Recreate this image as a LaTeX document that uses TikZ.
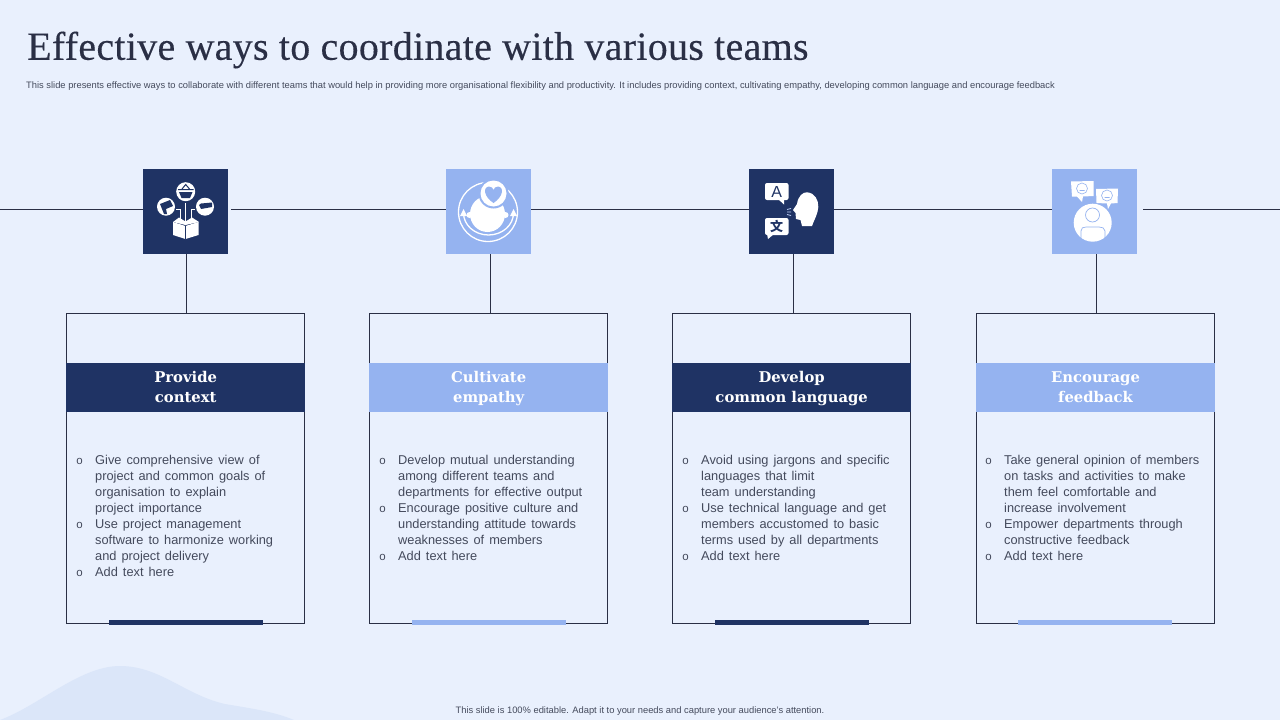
\documentclass[tikz,border=0pt]{standalone}
\usepackage{fontspec}
\setmainfont{Liberation Sans}
\newfontfamily\titlefont[LetterSpace=0.7,FakeBold=0.25]{Liberation Serif}
\newfontfamily\headfont{DejaVu Serif}
\newfontfamily\cjkfont{Noto Sans CJK SC}
\usepackage{xcolor}
\usepackage{tikz}
\usetikzlibrary{positioning}

\definecolor{pagebg}{HTML}{E9F0FD}
\definecolor{blobbg}{HTML}{DBE6F9}
\definecolor{navy}{HTML}{1F3364}
\definecolor{skyblue}{HTML}{95B3F0}
\definecolor{inkdark}{HTML}{2A2F45}
\definecolor{inkbody}{HTML}{444A5C}

\newcommand{\bulletmark}{\llap{\fontsize{11.5}{11.5}\selectfont o\hspace{12.5pt}}}
\newcommand{\headlines}[2]{\rule{0pt}{14pt}#1\\#2\rule[-4pt]{0pt}{4pt}}
\newcommand{\bodyfont}{\fontsize{12.8}{16}\selectfont\spaceskip 5pt\relax}

\tikzset{
  iconbox/.style={rectangle, minimum width=85pt, minimum height=85pt, inner sep=0pt},
  cardbox/.style={rectangle, draw=inkdark, line width=0.8pt, minimum width=238pt, minimum height=310pt, inner sep=0pt},
  headband/.style={rectangle, minimum width=238.5pt, minimum height=49pt, inner sep=0pt, text=white, align=center, font=\headfont\bfseries\fontsize{14.8}{20}\selectfont},
  footbar/.style={rectangle, minimum width=154pt, minimum height=5pt, inner sep=0pt},
  bodytext/.style={anchor=north west, inner sep=0pt, align=left, text=inkbody, font=\bodyfont},
  smalltext/.style={inner sep=0pt, text=inkbody, font=\fontsize{9.35}{10}\selectfont},
  wire/.style={draw=inkdark, line width=0.8pt}
}

\begin{document}
\begin{tikzpicture}[x=1pt, y=-1pt]
\useasboundingbox[fill=pagebg] (0,0) rectangle (1280,720);

% background blob
\fill[blobbg] (0,720) .. controls (40,705) and (80,666) .. (120,666)
  .. controls (160,666) and (185,695) .. (225,704) .. controls (255,709) and (275,712) .. (294,720) -- cycle;

% title lines
\node[anchor=west, inner sep=0pt, text=inkdark, font=\titlefont\fontsize{40}{42}\selectfont] (title) at (27,50) {Effective ways to coordinate with various teams};
\node[smalltext, anchor=west] (subtitle) at (26,85.7) {This slide presents effective ways to collaborate with different teams that would help in providing more organisational flexibility and productivity. It includes providing context, cultivating empathy, developing common language and encourage feedback};
\node[smalltext] (footer) at (640,711) {This slide is 100\% editable. Adapt it to your needs and capture your audience's attention.};

% icon squares
\node[iconbox, fill=navy] (iconone) at (185.5,211.5) {};
\node[iconbox, fill=skyblue] (icontwo) at (488.5,211.5) {};
\node[iconbox, fill=navy] (iconthree) at (791.5,211.5) {};
\node[iconbox, fill=skyblue] (iconfour) at (1094.5,211.5) {};

% cards
\node[cardbox] (cardone) at (185.7,468) {};
\node[cardbox] (cardtwo) at (488.7,468) {};
\node[cardbox] (cardthree) at (791.7,468) {};
\node[cardbox] (cardfour) at (1095.5,468) {};

\node[headband, fill=navy] (headone) at (185.7,387.5) {\headlines{Provide}{context}};
\node[headband, fill=skyblue] (headtwo) at (488.7,387.5) {\headlines{Cultivate}{empathy}};
\node[headband, fill=navy] (headthree) at (791.7,387.5) {\headlines{Develop}{common language}};
\node[headband, fill=skyblue] (headfour) at (1095.5,387.5) {\headlines{Encourage}{feedback}};

\node[footbar, fill=navy] (barone) at (186,622.5) {};
\node[footbar, fill=skyblue] (bartwo) at (489,622.5) {};
\node[footbar, fill=navy] (barthree) at (792,622.5) {};
\node[footbar, fill=skyblue] (barfour) at (1095,622.5) {};

% card texts
\node[bodytext] (textone) at (95,455) {\bulletmark Give comprehensive view of\\project and common goals of\\organisation to explain\\project importance\\\bulletmark Use project management\\software to harmonize working\\and project delivery\\\bulletmark Add text here};
\node[bodytext] (texttwo) at (398,455) {\bulletmark Develop mutual understanding\\among different teams and\\departments for effective output\\\bulletmark Encourage positive culture and\\understanding attitude towards\\weaknesses of members\\\bulletmark Add text here};
\node[bodytext] (textthree) at (701,455) {\bulletmark Avoid using jargons and specific\\languages that limit\\team understanding\\\bulletmark Use technical language and get\\members accustomed to basic\\terms used by all departments\\\bulletmark Add text here};
\node[bodytext] (textfour) at (1004,455) {\bulletmark Take general opinion of members\\on tasks and activities to make\\them feel comfortable and\\increase involvement\\\bulletmark Empower departments through\\constructive feedback\\\bulletmark Add text here};

% connectors
\coordinate (lineleft) at (0,209);
\coordinate (lineright) at (1280,209);
\draw[wire] (lineleft) -- (iconone.west |- lineleft);
\draw[wire] ([xshift=3pt]iconone.east |- lineleft) -- (icontwo.west |- lineleft);
\draw[wire] (icontwo.east |- lineleft) -- (iconthree.west |- lineleft);
\draw[wire] (iconthree.east |- lineleft) -- (iconfour.west |- lineleft);
\draw[wire] ([xshift=6pt]iconfour.east |- lineleft) -- (lineright);
\draw[wire] ([xshift=0.3pt]cardone.north) -- ([xshift=0.3pt]cardone.north |- iconone.south);
\draw[wire] ([xshift=1.3pt]cardtwo.north) -- ([xshift=1.3pt]cardtwo.north |- icontwo.south);
\draw[wire] ([xshift=1.8pt]cardthree.north) -- ([xshift=1.8pt]cardthree.north |- iconthree.south);
\draw[wire] ([xshift=0.5pt]cardfour.north) -- ([xshift=0.5pt]cardfour.north |- iconfour.south);

% icon one, box with three discs
\fill[white] (185.7,191.7) circle (9.5);
\fill[white] (166,206.7) circle (9);
\fill[white] (205,206.7) circle (9);
\fill[navy] (179,192) -- (192.5,192) -- (190,198) -- (181.5,198) -- cycle;
\draw[navy, line width=1pt] (178,189.5) -- (193.5,189.5) (182,189) -- (185.7,184.5) -- (189.5,189);
\fill[navy] (160,204) -- (170,200) -- (173,206) -- (166,209) -- (167,214) -- (164,214) -- cycle;
\fill[navy] (199,205) -- (201,203.5) -- (212,202.5) -- (212,207) -- (201,209) -- cycle;
\draw[white, line width=0.8pt] (185.7,203) -- (185.7,222) (176,209) -- (180,209) -- (180,222) (195,209) -- (191,209) -- (191,222);
\fill[white] (173,222) -- (185.5,226) -- (198.5,222) -- (198.5,235) -- (185.5,239) -- (173,235) -- cycle;
\draw[navy, line width=0.8pt] (185.5,226) -- (185.5,239);
\fill[white] (173,222) -- (179,217.5) -- (185.5,221.5) -- (192,217.5) -- (199,222) -- (185.5,225) -- cycle;

% icon two, head with heart
\draw[white, line width=1.3pt] (488,212) circle (29.5);
\fill[white] (487.5,214) ellipse (17.5 and 18);
\fill[white] (469.5,215) circle (3) (505.5,215) circle (3);
\draw[white, line width=1.3pt] (463.5,213) arc (180:0:25 and 22);
\fill[white] (463.5,209) -- (460,216) -- (467,216) -- cycle;
\fill[white] (513.5,209) -- (510,216) -- (517,216) -- cycle;
\fill[skyblue] (493.5,193.5) circle (15);
\fill[white] (493.5,193.5) circle (13);
\fill[skyblue] (493.5,203) .. controls (484,197) and (482.5,187) .. (489,186.5) .. controls (491,186.5) and (493.5,188) .. (493.5,190)
  .. controls (493.5,188) and (496,186.5) .. (498,186.5) .. controls (504.5,187) and (503,197) .. (493.5,203) -- cycle;

% icon three, speaking head with two bubbles
\fill[white, rounded corners=2pt] (765,183) rectangle (788.5,200);
\fill[white] (778,199) -- (784,204.5) -- (784,199) -- cycle;
\node[inner sep=0pt, text=navy, font=\fontsize{16}{16}\selectfont] (letterA) at (776.7,192) {A};
\fill[white, rounded corners=2pt] (765,218) rectangle (788.5,235);
\fill[white] (767,234) -- (768,239) -- (774,234) -- cycle;
\node[inner sep=0pt, text=navy, font=\cjkfont\bfseries\fontsize{13}{13}\selectfont] (letterB) at (776.7,226.5) {文};
\fill[white] (793,210) -- (797,204) .. controls (798,196) and (803,192) .. (807,192.3)
  .. controls (815,193) and (818.5,200) .. (818.3,207) .. controls (818,214) and (814,220) .. (812,226)
  -- (802,226) -- (800.5,220) -- (796,219) -- (795.5,213) -- cycle;
\draw[skyblue!60!white, line width=0.8pt] (787,209.5) -- (791,208.5) (787,212) -- (791,212) (787,214.5) -- (791,215.5);

% icon four, person with two bubbles
\fill[white] (1071,181.5) -- (1093.5,181) -- (1093.5,196) -- (1083,196.5) -- (1082,202) -- (1077,196.5) -- (1072,196.5) -- cycle;
\fill[white] (1096,189) -- (1118,188.5) -- (1117.5,203) -- (1111,203.5) -- (1108,209) -- (1107,203.5) -- (1096.5,203) -- cycle;
\draw[skyblue, line width=0.6pt] (1082,188.5) circle (5.5) (1079.5,190.5) -- (1084.5,190.5);
\draw[skyblue, line width=0.6pt] (1107,195.5) circle (5.5) (1104.5,197.5) -- (1109.5,197.5);
\fill[white] (1092.7,222.7) circle (19);
\draw[skyblue, line width=0.7pt] (1092.5,215) circle (7);
\draw[skyblue, line width=0.7pt] (1081,238) -- (1081,231) .. controls (1081,228) and (1083,227) .. (1086,227) -- (1099,227) .. controls (1102,227) and (1105,228) .. (1105,231) -- (1105,238);
\end{tikzpicture}
\end{document}
